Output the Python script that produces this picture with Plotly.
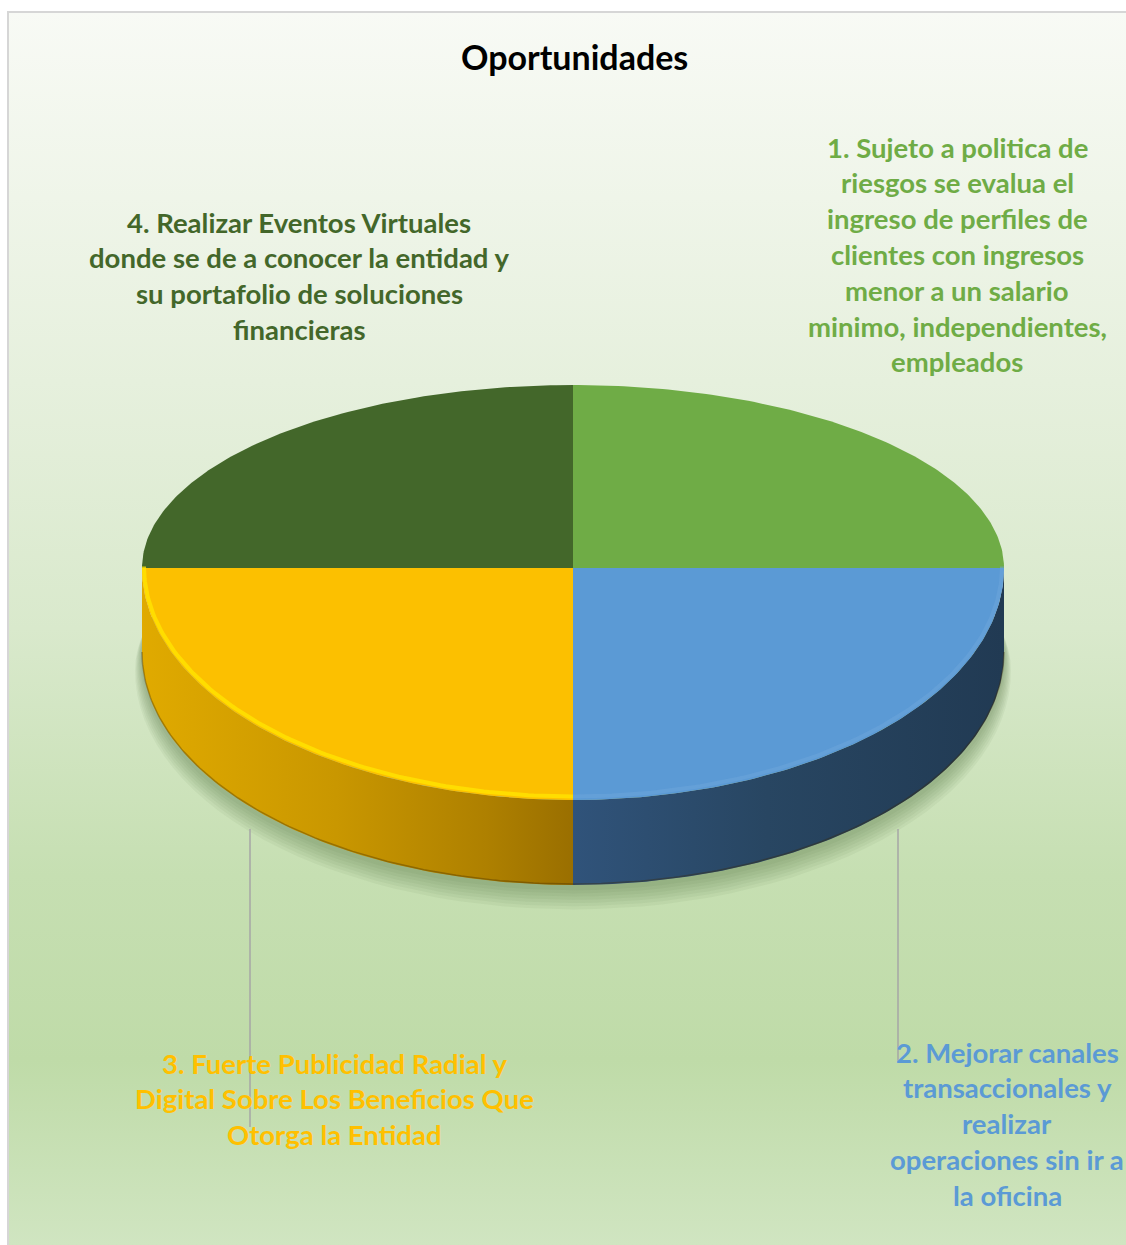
import math
import plotly.graph_objects as go

# ---- data -------------------------------------------------------------
categories = [
    "1. Sujeto a politica de riesgos se evalua el ingreso de perfiles de clientes con ingresos menor a un salario minimo, independientes, empleados",
    "2. Mejorar canales transaccionales y realizar operaciones sin ir a la oficina",
    "3. Fuerte Publicidad Radial y Digital Sobre Los Beneficios Que Otorga la Entidad",
    "4. Realizar Eventos Virtuales donde se de a conocer la entidad y su portafolio de soluciones financieras",
]
values = [25, 25, 25, 25]

# label text broken into the lines it is drawn with
label_lines = [
    ["1. Sujeto a politica de", "riesgos se evalua el", "ingreso de perfiles de",
     "clientes con ingresos", "menor a un salario", "minimo, independientes,", "empleados"],
    ["2. Mejorar canales", "transaccionales y", "realizar", "operaciones sin ir a", "la oficina"],
    ["3. Fuerte Publicidad Radial y", "Digital Sobre Los Beneficios Que", "Otorga la Entidad"],
    ["4. Realizar Eventos Virtuales", "donde se de a conocer la entidad y",
     "su portafolio de soluciones", "financieras"],
]

top_colors = ["#6FAC46", "#5B9AD5", "#FCC000", "#43672A"]
label_colors = ["#6FAC46", "#5B9AD5", "#FFC000", "#43672A"]
side_scales = [
    [[0, "#4F7E31"], [1, "#3E6626"]],
    [[0, "#30537A"], [0.45, "#284662"], [1, "#213A53"]],
    [[0, "#E0AA00"], [0.45, "#C99700"], [0.8, "#AE8000"], [1, "#9A6F00"]],
    [[0, "#2F4A1D"], [1, "#263D18"]],
]

# ---- geometry of the tilted pie (canvas units) ------------------------
W, H = 1126, 1245
CX, CY = 573, 568
RX, RY_BACK, RY_FRONT = 431, 183, 232
DEPTH = 85
N = 120


def rim(theta_deg, dz=0.0, grow=0.0):
    t = math.radians(theta_deg)
    c = math.cos(t)
    ry = (RY_BACK if c >= 0 else RY_FRONT) + grow
    return CX + (RX + grow) * math.sin(t), CY - ry * c + dz


def arc(a, b, dz=0.0, grow=0.0, n=N):
    pts = [rim(a + (b - a) * i / n, dz, grow) for i in range(n + 1)]
    return [p[0] for p in pts], [p[1] for p in pts]


fig = go.Figure()

# background panel with a vertical gradient
fig.add_trace(go.Scatter(
    x=[8, W + 5, W + 5, 8, 8], y=[12, 12, H + 5, H + 5, 12],
    mode="lines", line=dict(width=0), fill="toself",
    fillgradient=dict(type="vertical", start=12, stop=H,
                      colorscale=[[0, "#F8FAF5"], [0.3, "#E6F0DD"], [0.5, "#D9E9CC"],
                                  [0.7, "#C6DFB2"], [0.85, "#BFDBA8"], [1, "#D0E5C1"]]),
    hoverinfo="skip", showlegend=False))

# soft drop shadow under the pie
for k in range(7, 0, -1):
    xs, ys = arc(0, 360, dz=DEPTH + 2 + k * 2.2, grow=k * 1.0)
    fig.add_trace(go.Scatter(
        x=xs, y=ys, mode="lines", line=dict(width=0), fill="toself",
        fillcolor="rgba(70,105,45,0.06)", hoverinfo="skip", showlegend=False))

# slice angles: start at 12 o'clock, run clockwise
total = sum(values)
bounds = []
acc = 0.0
for v in values:
    a = acc / total * 360
    acc += v
    bounds.append((a, acc / total * 360))

# side walls (only the front half, 90..270 degrees, is visible)
for i, (a, b) in enumerate(bounds):
    lo, hi = max(a, 90), min(b, 270)
    if hi <= lo:
        continue
    tx, ty = arc(lo, hi)
    bx, by = arc(hi, lo, dz=DEPTH)
    fig.add_trace(go.Scatter(
        x=tx + bx + [tx[0]], y=ty + by + [ty[0]], mode="lines",
        line=dict(width=0), fill="toself",
        fillgradient=dict(type="horizontal", colorscale=side_scales[i]),
        hoverinfo="skip", showlegend=False))
    # darker lower edge of the wall
    ex, ey = arc(lo, hi, dz=DEPTH - 1)
    fig.add_trace(go.Scatter(x=ex, y=ey, mode="lines",
                             line=dict(color="rgba(60,40,0,0.35)", width=1.5),
                             hoverinfo="skip", showlegend=False))

# top faces
for i, (a, b) in enumerate(bounds):
    ax_, ay_ = arc(a, b)
    fig.add_trace(go.Scatter(
        x=[CX] + ax_ + [CX], y=[CY] + ay_ + [CY], mode="lines",
        line=dict(width=0), fill="toself", fillcolor=top_colors[i],
        name=categories[i], hoverinfo="skip", showlegend=False))

# bevel highlight along the front rim of the top faces
rim_light = {1: "rgba(110,165,220,0.5)", 2: "rgba(255,228,0,0.8)"}
for i, col in rim_light.items():
    a, b = bounds[i]
    lo, hi = max(a, 90), min(b, 270)
    hx, hy = arc(lo, hi, dz=-1.5, grow=-2)
    fig.add_trace(go.Scatter(x=hx, y=hy, mode="lines", line=dict(color=col, width=4),
                             hoverinfo="skip", showlegend=False))

# leader lines for the lower labels
leaders = [(898, 829, 1062), (250, 829, 1127)]
for lx, y0, y1 in leaders:
    fig.add_shape(type="line", x0=lx, x1=lx, y0=y0, y1=y1, xref="x", yref="y",
                  line=dict(color="#A6A6A6", width=1.5))

# data labels, one annotation per line
label_pos = [(957, 147), (1007, 1052), (334, 1063), (299, 222)]
LINE_GAP = 35.8
for i, lines in enumerate(label_lines):
    x0, y0 = label_pos[i]
    for j, line in enumerate(lines):
        fig.add_annotation(x=x0, y=y0 + j * LINE_GAP, xref="x", yref="y",
                           text=f"<b>{line}</b>", showarrow=False,
                           xanchor="center", yanchor="middle",
                           font=dict(family="Lato", size=27.5, color=label_colors[i]))

fig.add_annotation(x=574, y=56, xref="x", yref="y", text="<b>Oportunidades</b>",
                   showarrow=False, xanchor="center", yanchor="middle",
                   font=dict(family="Lato", size=34, color="#000000"))

# chart frame
fig.add_shape(type="rect", x0=8, y0=12, x1=W + 10, y1=H + 10, xref="x", yref="y",
              line=dict(color="#D6D6D6", width=2), layer="above")

fig.update_layout(
    width=W, height=H, margin=dict(l=0, r=0, t=0, b=0),
    paper_bgcolor="#FFFFFF", plot_bgcolor="#FFFFFF",
    xaxis=dict(range=[0, W], visible=False, fixedrange=True),
    yaxis=dict(range=[H, 0], visible=False, fixedrange=True),
    showlegend=False,
)

fig.write_html("out.html")
